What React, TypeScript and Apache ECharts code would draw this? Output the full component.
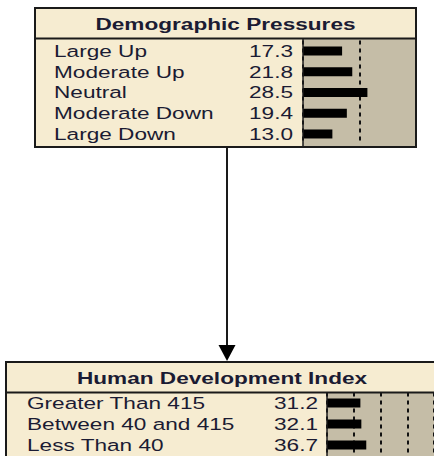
import React, { useEffect, useRef } from "react";
import * as echarts from "echarts";

const topTitle = "Demographic Pressures";
const topLabels = ["Large Up", "Moderate Up", "Neutral", "Moderate Down", "Large Down"];
const topValues = [17.3, 21.8, 28.5, 19.4, 13.0];

const bottomTitle = "Human Development Index";
const bottomLabels = ["Greater Than 415", "Between 40 and 415", "Less Than 40"];
const bottomValues = [31.2, 32.1, 36.7];

const FONT = '"Liberation Sans", Arial, sans-serif';
const TEXT = "#1b1b33";
const CREAM = "#F6ECD1";
const GRAY = "#C5BDA7";
const LINE = "#1a1a1a";
const SX = 1.33;

function textSeries(labels: string[], values: number[], axisIdx: number, labelX: number, valueX: number) {
  return {
    type: "custom",
    xAxisIndex: axisIdx,
    yAxisIndex: axisIdx,
    clip: false,
    silent: true,
    z: 5,
    data: values.map((v, i) => [v, i]),
    renderItem: (params: any, api: any) => {
      const i = params.dataIndex;
      const y = api.coord([0, i])[1];
      return {
        type: "group",
        children: [
          {
            type: "text",
            x: labelX,
            y,
            scaleX: SX,
            style: {
              text: labels[i],
              fontSize: 17,
              fontFamily: FONT,
              fill: TEXT,
              align: "left",
              textAlign: "left",
              verticalAlign: "middle",
              textVerticalAlign: "middle",
            },
          },
          {
            type: "text",
            x: valueX,
            y,
            scaleX: SX,
            style: {
              text: values[i].toFixed(1),
              fontSize: 17,
              fontFamily: FONT,
              fill: TEXT,
              align: "right",
              textAlign: "right",
              verticalAlign: "middle",
              textVerticalAlign: "middle",
            },
          },
        ],
      };
    },
  };
}

export default function App() {
  const ref = useRef<HTMLDivElement>(null);
  useEffect(() => {
    if (!ref.current) return;
    const chart = echarts.init(ref.current, undefined, { renderer: "svg" });

    const topBox = { x0: 35, y0: 8, x1: 416, y1: 147, head: 38.5, split: 303 };
    const botBox = { x0: 6, y0: 362, x1: 441, y1: 475, head: 392.5, split: 327 };

    const titleText = (t: string, x: number, y: number) => ({
      type: "text",
      x,
      y,
      scaleX: SX,
      z: 120,
      style: {
        text: t,
        fontSize: 17,
        fontWeight: "bold",
        fontFamily: FONT,
        fill: TEXT,
        align: "center",
        textAlign: "center",
        verticalAlign: "middle",
        textVerticalAlign: "middle",
      },
    });

    const boxGraphics = (b: any) => [
      { type: "rect", z: -2, shape: { x: b.x0, y: b.y0, width: b.x1 - b.x0, height: b.y1 - b.y0 }, style: { fill: CREAM } },
      { type: "rect", z: -1, shape: { x: b.split, y: b.head, width: b.x1 - b.split, height: b.y1 - b.head }, style: { fill: GRAY } },
      { type: "line", z: 110, shape: { x1: b.x0, y1: b.head, x2: b.x1, y2: b.head }, style: { stroke: LINE, lineWidth: 2 } },
      { type: "line", z: 110, shape: { x1: b.split, y1: b.head, x2: b.split, y2: b.y1 }, style: { stroke: LINE, lineWidth: 1.5 } },
      { type: "rect", z: 110, shape: { x: b.x0, y: b.y0, width: b.x1 - b.x0, height: b.y1 - b.y0 }, style: { fill: "none", stroke: LINE, lineWidth: 2 } },
    ];

    chart.setOption({
      animation: false,
      backgroundColor: "#ffffff",
      grid: [
        { left: 303, top: 40.6, width: 113, height: 103.75, containLabel: false },
        { left: 327, top: 392.5, width: 113, height: 63, containLabel: false },
      ],
      xAxis: [
        {
          gridIndex: 0,
          type: "value",
          min: 0,
          max: 50,
          interval: 25,
          axisLine: { show: false },
          axisTick: { show: false },
          axisLabel: { show: false },
          splitLine: { show: true, lineStyle: { color: "#111", width: 2, type: [4, 4] } },
        },
        {
          gridIndex: 1,
          type: "value",
          min: 0,
          max: 100,
          interval: 25,
          axisLine: { show: false },
          axisTick: { show: false },
          axisLabel: { show: false },
          splitLine: { show: true, lineStyle: { color: "#111", width: 2, type: [4, 4] } },
        },
      ],
      yAxis: [
        {
          gridIndex: 0,
          type: "category",
          inverse: true,
          data: topLabels,
          axisLine: { show: false },
          axisTick: { show: false },
          axisLabel: { show: false },
        },
        {
          gridIndex: 1,
          type: "category",
          inverse: true,
          data: bottomLabels,
          axisLine: { show: false },
          axisTick: { show: false },
          axisLabel: { show: false },
        },
      ],
      series: [
        {
          type: "bar",
          xAxisIndex: 0,
          yAxisIndex: 0,
          data: topValues,
          barWidth: 9,
          itemStyle: { color: "#000" },
          silent: true,
          z: 3,
        },
        {
          type: "bar",
          xAxisIndex: 1,
          yAxisIndex: 1,
          data: bottomValues,
          barWidth: 9,
          itemStyle: { color: "#000" },
          silent: true,
          z: 3,
        },
        textSeries(topLabels, topValues, 0, 54, 293),
        textSeries(bottomLabels, bottomValues, 1, 27, 318),
      ],
      graphic: [
        ...boxGraphics(topBox),
        ...boxGraphics(botBox),
        titleText(topTitle, (topBox.x0 + topBox.x1) / 2, 24),
        titleText(bottomTitle, 222, 378),
        { type: "line", z: 110, shape: { x1: 227, y1: 148, x2: 227, y2: 347 }, style: { stroke: LINE, lineWidth: 2 } },
        { type: "polygon", z: 110, shape: { points: [[218.5, 345], [235.5, 345], [227, 361]] }, style: { fill: "#000" } },
      ],
    });
    return () => chart.dispose();
  }, []);
  return (
    <div
      ref={ref}
      style={{ position: "fixed", left: 0, top: 0, width: 434, height: 456, background: "#fff" }}
    />
  );
}
